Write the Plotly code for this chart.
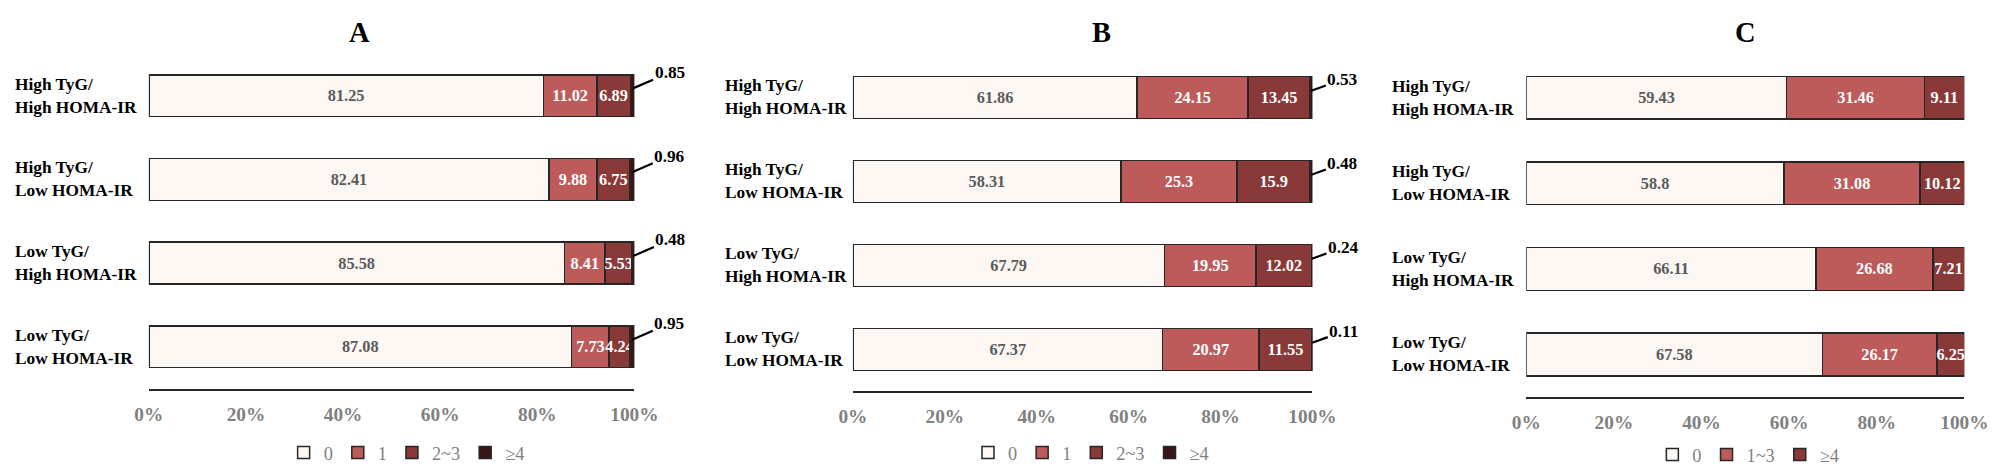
import plotly.graph_objects as go

# ---------------- data ----------------
categories = ["High TyG/<br>High HOMA-IR", "High TyG/<br>Low HOMA-IR",
              "Low TyG/<br>High HOMA-IR", "Low TyG/<br>Low HOMA-IR"]

a_names = ["0", "1", "2~3", "≥4"]
a_zero = [81.25, 82.41, 85.58, 87.08]
a_one = [11.02, 9.88, 8.41, 7.73]
a_two3 = [6.89, 6.75, 5.53, 4.24]
a_ge4 = [0.85, 0.96, 0.48, 0.95]

b_names = ["0", "1", "2~3", "≥4"]
b_zero = [61.86, 58.31, 67.79, 67.37]
b_one = [24.15, 25.3, 19.95, 20.97]
b_two3 = [13.45, 15.9, 12.02, 11.55]
b_ge4 = [0.53, 0.48, 0.24, 0.11]

c_names = ["0", "1~3", "≥4"]
c_zero = [59.43, 58.8, 66.11, 67.58]
c_one3 = [31.46, 31.08, 26.68, 26.17]
c_ge4 = [9.11, 10.12, 7.21, 6.25]

tick_vals = [0, 20, 40, 60, 80, 100]
tick_text = ["0%", "20%", "40%", "60%", "80%", "100%"]
panel_titles = ["A", "B", "C"]

# ---------------- geometry helpers (target pixel -> paper fraction) ----------------
W, H = 2008, 475
SX, OX = 0.982, 12.0     # measured horizontal mapping of the photographed page
SY = 0.992               # measured vertical mapping


def fx(d):
    return ((d - OX) / SX) / W


def fy(d):
    return 1 - (d / SY) / H


def fs(s):
    return s / SX        # compensate font size / pixel offsets


# ---------------- style ----------------
FONT = "Liberation Serif"
C0, C1, C2, C3 = "#FCF7F3", "#BD5B5A", "#8A3939", "#3A1515"
EDGE = "#262626"

panels = [
    dict(title="A", names=a_names, series=[a_zero, a_one, a_two3, a_ge4],
         colors=[C0, C1, C2, C3], text=[True, True, True, False],
         xdom=[fx(147), fx(633)], ydom=[fy(386), fy(53.5)], yrange=[-0.506, 3.5],
         title_x=fx(358), label_x=fx(11), legend_x=fx(405), legend_y=fy(449),
         outside=a_ge4, ax=37, ay=-16, yshift=7),
    dict(title="B", names=b_names, series=[b_zero, b_one, b_two3, b_ge4],
         colors=[C0, C1, C2, C3], text=[True, True, True, False],
         xdom=[fx(851.7), fx(1311.7)], ydom=[fy(388), fy(54.9)], yrange=[-0.498, 3.5],
         title_x=fx(1101), label_x=fx(722), legend_x=fx(1090), legend_y=fy(449),
         outside=b_ge4, ax=31, ay=-11, yshift=6.5),
    dict(title="C", names=c_names, series=[c_zero, c_one3, c_ge4],
         colors=[C0, C1, C2], text=[True, True, True],
         xdom=[fx(1525.7), 1988 / W], ydom=[fy(394), fy(54.6)], yrange=[-0.50, 3.5],
         title_x=fx(1745), label_x=fx(1389), legend_x=fx(1748), legend_y=fy(451),
         outside=None),
]

fig = go.Figure()
annotations = []
layout_axes = {}

for i, p in enumerate(panels):
    n = i + 1
    xa = "x" if n == 1 else f"x{n}"
    ya = "y" if n == 1 else f"y{n}"
    leg = "legend" if n == 1 else f"legend{n}"
    for name, vals, col, show_text in zip(p["names"], p["series"], p["colors"], p["text"]):
        fig.add_trace(go.Bar(
            y=categories, x=vals, orientation="h", name=name,
            marker=dict(color=col, line=dict(color=EDGE, width=1.5)),
            text=vals if show_text else None,
            texttemplate="%{x}" if show_text else None,
            textposition="inside" if show_text else "none",
            insidetextanchor="middle", constraintext="none", textangle=0,
            textfont=dict(family=FONT, size=fs(16), weight="bold",
                          color="#5A5A5A" if col == C0 else "white"),
            xaxis=xa, yaxis=ya, legend=leg, hoverinfo="skip",
        ))
    xkey = "xaxis" if n == 1 else f"xaxis{n}"
    ykey = "yaxis" if n == 1 else f"yaxis{n}"
    layout_axes[xkey] = dict(
        domain=p["xdom"], anchor=ya, range=[0, 100], tickvals=tick_vals, ticktext=tick_text,
        showgrid=False, zeroline=False, showline=True, linecolor=EDGE, linewidth=2,
        ticks="", ticklabelstandoff=7,
        tickfont=dict(family=FONT, size=fs(19), weight="bold", color="#808080"),
    )
    layout_axes[ykey] = dict(
        domain=p["ydom"], anchor=xa, type="category",
        categoryorder="array", categoryarray=list(reversed(categories)),
        range=p["yrange"], showticklabels=False, showgrid=False, zeroline=False,
        showline=False, ticks="",
    )
    layout_axes[leg] = dict(
        orientation="h", x=p["legend_x"], y=p["legend_y"], xanchor="center", yanchor="middle",
        font=dict(family=FONT, size=fs(18), color="#7F7F7F"), bgcolor="rgba(0,0,0,0)",
        traceorder="normal", itemclick=False, itemdoubleclick=False,
    )
    annotations.append(dict(text=p["title"], x=p["title_x"], y=fy(32), xref="paper", yref="paper",
                            showarrow=False, xanchor="center", yanchor="middle",
                            font=dict(family=FONT, size=fs(28), weight="bold", color="black")))
    for cat in categories:
        annotations.append(dict(text=cat, x=p["label_x"], y=cat, xref="paper", yref=ya,
                                showarrow=False, xanchor="left", yanchor="middle", align="left",
                                font=dict(family=FONT, size=fs(17), weight="bold", color="black")))
    if p["outside"] is not None:
        for cat, v in zip(categories, p["outside"]):
            annotations.append(dict(text=f"{v}", x=100 - v / 2, y=cat, xref=xa, yref=ya,
                                    showarrow=True, arrowhead=0, arrowwidth=2.2, arrowcolor="black",
                                    ax=fs(p["ax"]), ay=fs(p["ay"]), yshift=fs(p["yshift"]),
                                    font=dict(family=FONT, size=fs(17), weight="bold", color="black")))

fig.update_layout(
    autosize=False, width=W, height=H, margin=dict(l=0, r=0, t=0, b=0),
    paper_bgcolor="white", plot_bgcolor="white",
    barmode="stack", bargap=0.5, showlegend=True,
    annotations=annotations, **layout_axes,
)

fig.write_html("out.html", config={"displayModeBar": False, "responsive": False},
               post_script="document.body.style.margin='0';")
